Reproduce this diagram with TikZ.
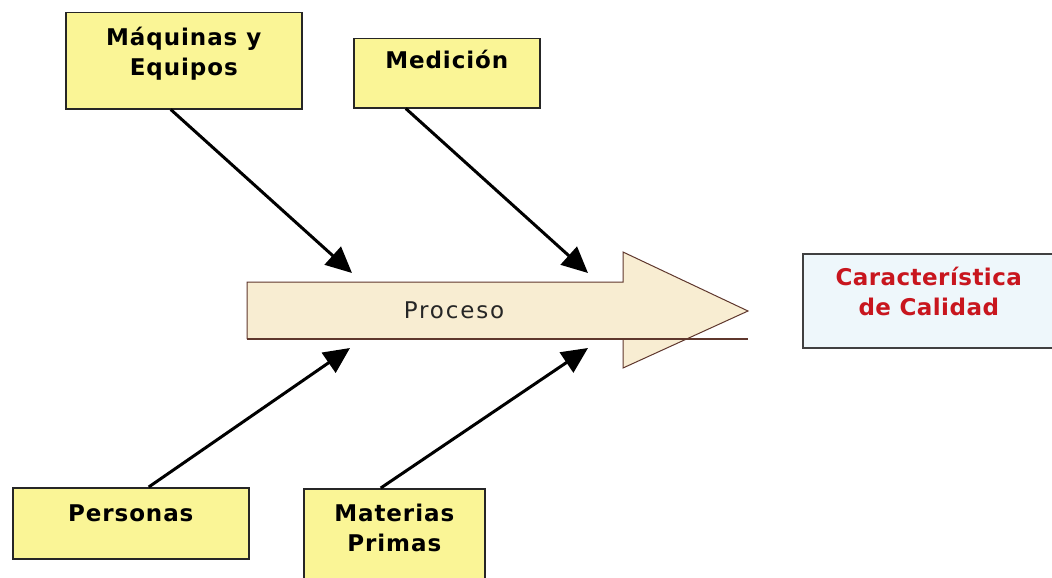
\documentclass[tikz,border=0pt]{standalone}
\usepackage{fontspec}
\setmainfont{DejaVu Sans}
\usetikzlibrary{arrows.meta}
\definecolor{causefill}{RGB}{250,245,150}
\definecolor{procfill}{RGB}{248,237,210}
\definecolor{procline}{RGB}{95,55,45}
\definecolor{effectfill}{RGB}{238,247,251}
\definecolor{effectred}{RGB}{200,22,30}

\begin{document}
\begin{tikzpicture}[x=1pt, y=-1pt,
    every node/.style={inner sep=0pt, rectangle, align=center, anchor=north west},
    cause/.style={draw=black!85, line width=1.5pt, fill=causefill, font=\fontsize{23}{30}\selectfont\bfseries\addfontfeature{LetterSpace=4}},
    effect/.style={draw=black!75, line width=1.5pt, fill=effectfill, text=effectred, font=\fontsize{23}{30}\selectfont\bfseries\addfontfeature{LetterSpace=2}},
    feed/.style={line width=3pt, -{Triangle[length=26pt, width=24pt]}}]
\useasboundingbox (0,0) rectangle (1052,578);

% process arrow
\fill [procfill] (247,282) -- (623,282) -- (623,252) -- (748,311) -- (623,368) -- (623,339) -- (247,339) -- cycle;
\draw [procline, line width=1pt] (247,339) -- (247,282) -- (623,282) -- (623,252) -- (748,311) -- (623,368) -- (623,339);
\draw [procline, line width=1.5pt] (247,339) -- (748,339);
\node [anchor=center, text=black!85, font=\fontsize{23}{26}\selectfont\addfontfeature{LetterSpace=8}] (proceso) at (454,310) {Proceso};

% causes
\node [cause, minimum width=236pt, text height=63pt, text depth=33pt] (maquinas) at (65,12) {Máquinas y\\Equipos};
\node [cause, minimum width=186pt, text height=30pt, text depth=39pt] (medicion) at (353,38) {Medición};
\node [cause, minimum width=236pt, text height=34pt, text depth=37pt] (personas) at (12,487) {Personas};
\node [cause, minimum width=181pt, text height=63pt, text depth=40pt] (materias) at (303,488) {Materias\\Primas};

% effect
\node [effect, minimum width=252pt, text height=62pt, text depth=32pt] (calidad) at (802,253) {Característica\\de Calidad};

\coordinate (maqin) at (352,273);
\coordinate (medin) at (588,273);
\coordinate (perin) at (350,348);
\coordinate (matin) at (588,348);

\draw [feed] ([xshift=-13pt]maquinas.south) -- (maqin);
\draw [feed] ([xshift=-41pt]medicion.south) -- (medin);
\draw [feed] ([xshift=18pt]personas.north) -- (perin);
\draw [feed] ([xshift=-13.5pt]materias.north) -- (matin);

\end{tikzpicture}
\end{document}
